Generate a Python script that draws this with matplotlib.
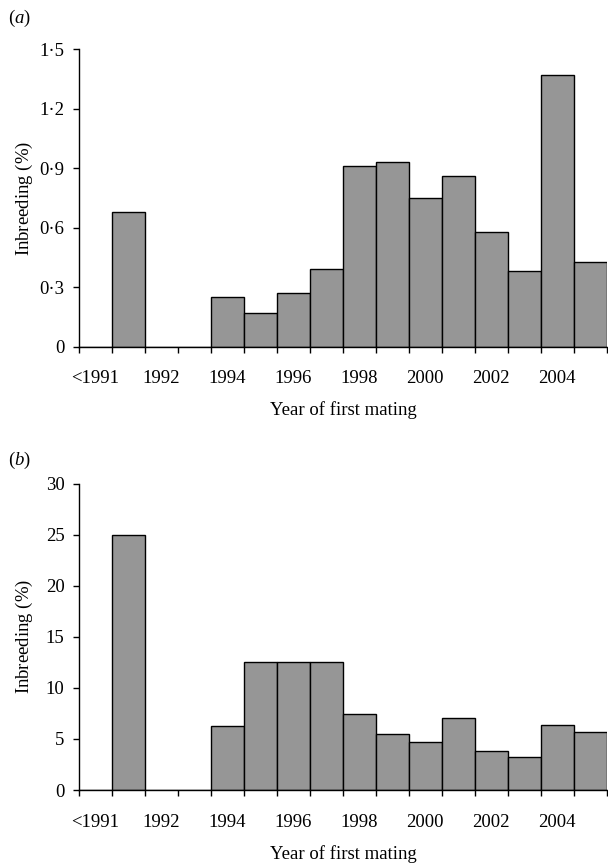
import numpy as np
import matplotlib
matplotlib.use("Agg")
import matplotlib.pyplot as plt

plt.rcParams['font.family'] = ['Liberation Serif', 'DejaVu Serif']
plt.rcParams['mathtext.fontset'] = 'custom'
plt.rcParams['mathtext.rm'] = 'Liberation Serif'
plt.rcParams['mathtext.it'] = 'Liberation Serif:italic'

# one bin per year, first bin holds everything before 1991
years = ["<1991", "1991", "1992", "1993", "1994", "1995", "1996", "1997",
         "1998", "1999", "2000", "2001", "2002", "2003", "2004", "2005"]
shown_labels = ["<1991", "1992", "1994", "1996", "1998", "2000", "2002", "2004"]

inbreeding_a = [0, 0.68, 0, 0, 0.25, 0.17, 0.27, 0.39,
                0.91, 0.93, 0.75, 0.86, 0.58, 0.38, 1.37, 0.43]
inbreeding_b = [0, 25, 0, 0, 6.25, 12.5, 12.5, 12.5,
                7.4, 5.45, 4.7, 7.1, 3.85, 3.2, 6.4, 5.7]

yticks_a = [0, 0.3, 0.6, 0.9, 1.2, 1.5]
yticks_b = [0, 5, 10, 15, 20, 25, 30]

FS = 13.5
BAR_COLOR = "#969696"


def dot_label(v):
    if v == 0:
        return "0"
    return f"{v:.1f}".replace(".", "\u00b7")


def draw_panel(ax, values, yticks, ylabels, xlab_y):
    pos = np.arange(len(years))
    ax.bar(pos, values, width=1.0, align="edge", color=BAR_COLOR,
           edgecolor="black", linewidth=1.0, zorder=2)
    ax.set_xlim(0, len(years))
    ax.set_ylim(yticks[0], yticks[-1])

    for side in ("top", "right"):
        ax.spines[side].set_visible(False)
    for side in ("left", "bottom"):
        ax.spines[side].set_linewidth(1.0)

    # tick marks on bin edges, labels in bin middles
    ax.set_xticks(np.arange(len(years) + 1))
    ax.set_xticklabels([])
    centres = [years.index(s) + 0.5 for s in shown_labels]
    ax.set_xticks(centres, shown_labels, minor=True)
    ax.tick_params(axis="x", which="major", direction="out", length=4.5, width=1.0)
    ax.tick_params(axis="x", which="minor", length=0, pad=17, labelsize=FS)

    ax.set_yticks(yticks, ylabels)
    ax.tick_params(axis="y", direction="out", length=4.5, width=1.0, pad=6, labelsize=FS)

    ax.set_ylabel(r"Inbreeding ($\mathit{\%}$)", fontsize=FS)
    ax.yaxis.set_label_coords(-0.084, 0.5)
    ax.set_xlabel("Year of first mating", fontsize=FS)
    ax.xaxis.set_label_coords(0.5, xlab_y)


fig = plt.figure(figsize=(6.08, 8.65), dpi=100)
ax_a = fig.add_axes([0.130, 0.599, 0.868, 0.344])
ax_b = fig.add_axes([0.130, 0.0867, 0.868, 0.354])

draw_panel(ax_a, inbreeding_a, yticks_a, [dot_label(v) for v in yticks_a], -0.183)
draw_panel(ax_b, inbreeding_b, yticks_b, [str(v) for v in yticks_b], -0.181)

fig.text(8 / 608, 1 - 18 / 865, r"($a$)", fontsize=FS, ha="left", va="center")
fig.text(8 / 608, 1 - 460 / 865, r"($b$)", fontsize=FS, ha="left", va="center")

fig.savefig("out.png", dpi=100, facecolor="white")
